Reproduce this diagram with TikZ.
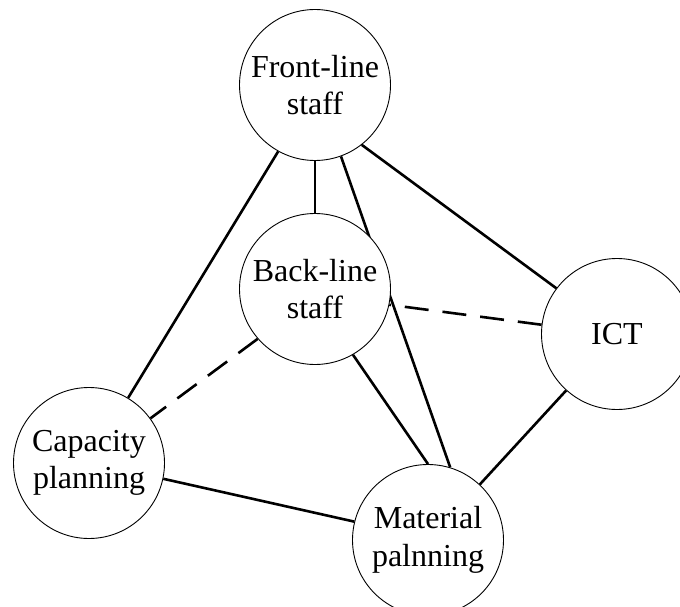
\documentclass[tikz,border=0pt]{standalone}
\usepackage{fontspec}
\setmainfont{Liberation Serif}
\usetikzlibrary{backgrounds}
\begin{document}
\begin{tikzpicture}[x=1pt,y=-1pt,
  topic/.style={circle, draw=black, line width=0.9pt, fill=white, minimum size=151pt, inner sep=0pt, align=center, font=\fontsize{32}{37.5}\selectfont},
  link/.style={line width=2.6pt},
  dlink/.style={line width=2.6pt, dash pattern=on 24pt off 14pt}]
\useasboundingbox (0,0) rectangle (680,607);
\clip (0,0) rectangle (680,607);
\node[topic] (front) at (315,85) {Front-line\\staff};
\node[topic] (back) at (315,289) {Back-line\\staff};
\node[topic] (ict) at (617,334) {ICT};
\node[topic] (cap) at (89,463) {Capacity\\planning};
\node[topic] (mat) at (428,540) {Material\\palnning};
\begin{pgfonlayer}{background}
\draw[link] (front.south) -- (back.north);
\draw[link] (front.-70.5) -- (mat.73.7);
\draw[link] (front.-52) -- (ict.143);
\draw[link] (front.-119.3) -- (cap.59);
\draw[dlink] (ict.173) -- (back.-12);
\draw[dlink] (back.-139) -- (cap.36.5);
\draw[link] (back.-60) -- (mat.north);
\draw[link] (ict.-132.4) -- (mat.47.9);
\draw[link] (cap.-12.6) -- (mat.166);
\end{pgfonlayer}
\end{tikzpicture}
\end{document}
